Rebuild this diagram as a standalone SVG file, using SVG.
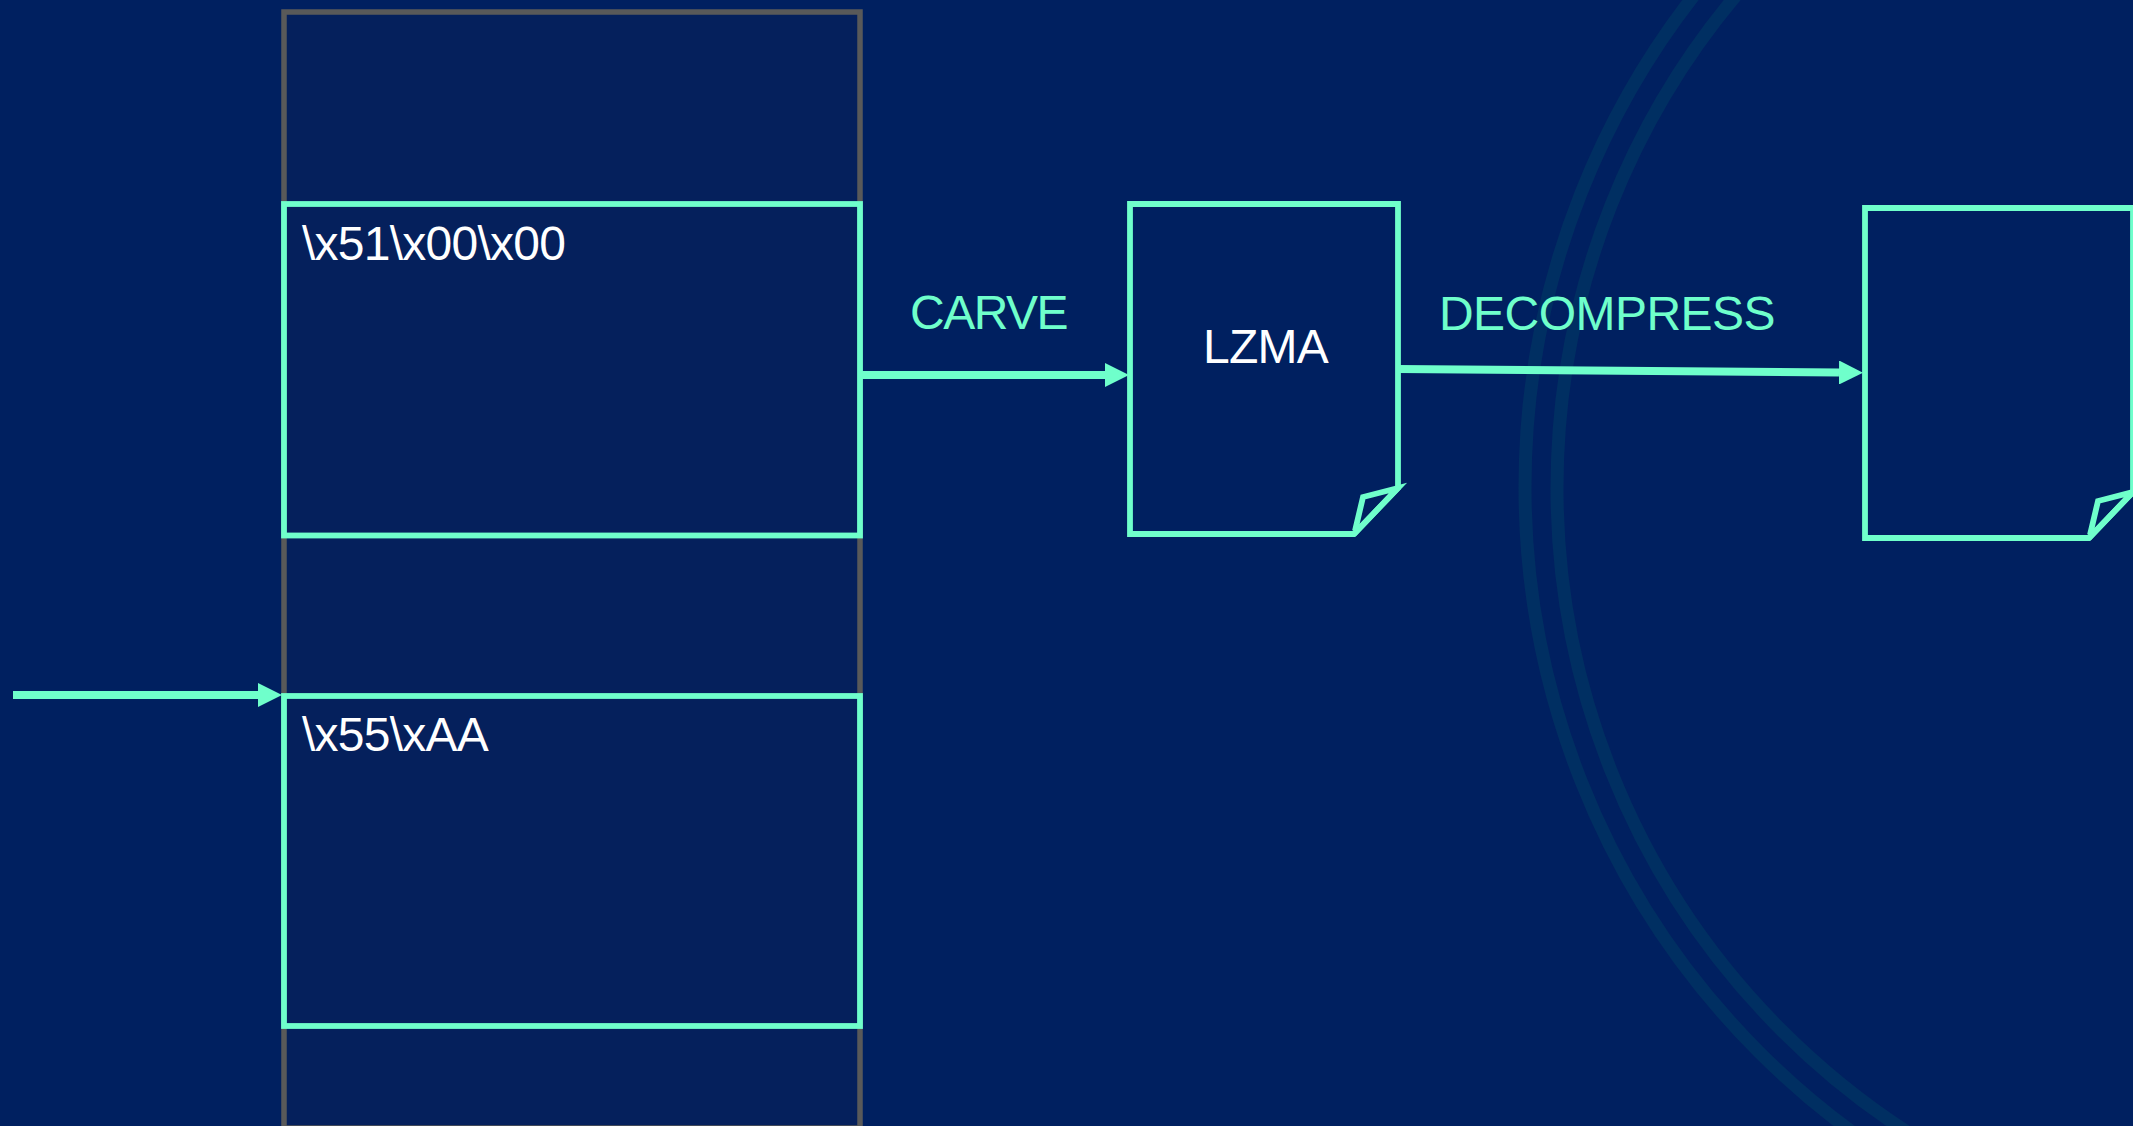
<svg xmlns="http://www.w3.org/2000/svg" width="2133" height="1126" viewBox="0 0 2133 1126">
<style>
.ring{fill:none;stroke:#002f62;stroke-width:13}
.mem{fill:#05205c;stroke:#595959;stroke-width:5.5}
.hit{fill:#05205c;stroke:#6fffcb;stroke-width:5.8}
.doc{fill:#002060;stroke:#6fffcb;stroke-width:5.8}
.fold{fill:none;stroke:#6fffcb;stroke-width:5.8;stroke-miterlimit:10}
.conn{fill:none;stroke:#6fffcb;stroke-width:8}
text{font-family:"Liberation Sans",Arial,sans-serif;font-size:48px}
.w{fill:#ffffff;letter-spacing:-0.75px}
.g{fill:#6fffcb}
</style>
<defs>
<marker id="arrow" markerUnits="userSpaceOnUse" markerWidth="24" markerHeight="24" refX="0" refY="12" orient="auto">
<path d="M0 0L24 12L0 24Z" fill="#6fffcb"/>
</marker>
</defs>
<rect width="2133" height="1126" fill="#002060"/>
<g id="rings">
<circle class="ring" cx="2324" cy="487" r="799"/>
<circle class="ring" cx="2324" cy="488" r="767"/>
</g>
<g id="memory"><rect class="mem" x="284" y="12" width="576" height="1116"/></g>
<g id="region-lzma">
<rect class="hit" x="284" y="204" width="576" height="331.500"/>
<text class="w" x="302" y="260">\x51\x00\x00</text>
</g>
<g id="region-header">
<rect class="hit" x="284" y="696" width="576" height="330"/>
<text class="w" x="302" y="751">\x55\xAA</text>
</g>
<g id="doc-lzma">
<path class="doc" d="M1130 204H1398V488L1354 534H1130Z"/>
<path class="fold" d="M1354 534L1398 488L1363 497L1355 531"/>
<text class="w" x="1203" y="363">LZMA</text>
</g>
<g id="doc-out">
<path class="doc" d="M1865 208H2133V492L2089 538H1865Z"/>
<path class="fold" d="M2089 538L2133 492L2098 501L2090 535"/>
</g>
<g id="connectors">
<line class="conn" x1="13" y1="695" x2="258" y2="695" marker-end="url(#arrow)"/>
<line class="conn" x1="860" y1="375" x2="1105" y2="375" marker-end="url(#arrow)"/>
<line class="conn" x1="1398" y1="369" x2="1839" y2="372.500" marker-end="url(#arrow)"/>
</g>
<g id="labels">
<text class="g" x="910" y="329" style="letter-spacing:-1.5px">CARVE</text>
<text class="g" x="1439" y="330" style="letter-spacing:-0.55px">DECOMPRESS</text>
</g>
</svg>
